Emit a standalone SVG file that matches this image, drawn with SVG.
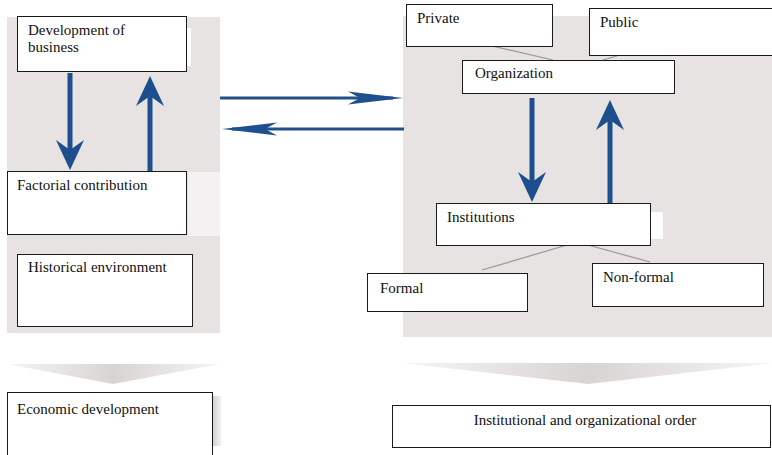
<svg xmlns="http://www.w3.org/2000/svg" width="772" height="455" viewBox="0 0 772 455">
  <style>
    .panel { fill: #e7e3e3; }
    .box { fill: #ffffff; stroke: #1a1a1a; stroke-width: 1; }
    .lbl { font-family: "Liberation Serif", "Times New Roman", serif; font-size: 15px; fill: #111111; }
    .thick { stroke: #1d4e8d; stroke-width: 5; fill: none; }
    .thin { stroke: #244f88; stroke-width: 3; fill: none; }
    .link { stroke: #9a9696; stroke-width: 1.2; fill: none; }
    .chev { fill: url(#chevFill); }
  </style>
  <defs>
    <marker id="bigHead" markerUnits="userSpaceOnUse" viewBox="-19 -15 32 30" markerWidth="32" markerHeight="30" refX="0" refY="0" orient="auto">
      <path d="M12,0 L-18,-14 L-8,0 L-18,14 Z" fill="#1d4e8d"/>
    </marker>
    <marker id="longHead" markerUnits="userSpaceOnUse" viewBox="-46 -7 57 14" markerWidth="57" markerHeight="14" refX="0" refY="0" orient="auto">
      <path d="M10,0 L-45,-6.5 L-33,0 L-45,6.5 Z" fill="#1f4f8e"/>
    </marker>
    <linearGradient id="chevFill" x1="0" y1="0" x2="1" y2="0">
      <stop offset="0" stop-color="#f6f4f4"/>
      <stop offset="0.5" stop-color="#d9d4d4"/>
      <stop offset="1" stop-color="#f6f4f4"/>
    </linearGradient>
    <linearGradient id="shadeFill" x1="0" y1="0" x2="1" y2="0">
      <stop offset="0" stop-color="#d6d1d1"/>
      <stop offset="1" stop-color="#f4f2f2"/>
    </linearGradient>
  </defs>

  <!-- background panels -->
  <rect class="panel" x="7" y="17" width="213" height="316"/>
  <rect class="panel" x="403" y="16" width="369" height="321"/>
  <rect x="188" y="172" width="32" height="64" fill="#f3f1f1"/>
  <rect x="186" y="28" width="5" height="38" fill="#ffffff"/>
  <rect x="650" y="212" width="13" height="27" fill="#ffffff"/>

  <!-- downward chevrons -->
  <polygon class="chev" points="7,364 220,364 113,384"/>
  <polygon class="chev" points="403,363 772,363 588,384"/>
  <rect x="213" y="396" width="8" height="50" fill="url(#shadeFill)"/>

  <!-- connectors -->
  <g id="connectors">
    <line class="thick" x1="70" y1="73" x2="70" y2="158" marker-end="url(#bigHead)"/>
    <line class="thick" x1="150" y1="171" x2="150" y2="88" marker-end="url(#bigHead)"/>
    <line class="thick" x1="532" y1="98" x2="532" y2="190" marker-end="url(#bigHead)"/>
    <line class="thick" x1="610" y1="203" x2="610" y2="112" marker-end="url(#bigHead)"/>
    <line class="thin" x1="220" y1="98" x2="393" y2="98" marker-end="url(#longHead)"/>
    <line class="thin" x1="404" y1="129" x2="232" y2="129" marker-end="url(#longHead)"/>
    <line class="link" x1="492" y1="46" x2="553" y2="60"/>
    <line class="link" x1="620" y1="55" x2="603" y2="60"/>
    <line class="link" x1="567" y1="245" x2="482" y2="270"/>
    <line class="link" x1="588" y1="245" x2="650" y2="262"/>
  </g>

  <!-- left column -->
  <g id="development-of-business">
    <rect class="box" x="17.5" y="16.5" width="169" height="55"/>
    <text class="lbl" x="28" y="35">Development of</text>
    <text class="lbl" x="28" y="52">business</text>
  </g>
  <g id="factorial-contribution">
    <rect class="box" x="7.5" y="171.5" width="179" height="63"/>
    <text class="lbl" x="17" y="190">Factorial contribution</text>
  </g>
  <g id="historical-environment">
    <rect class="box" x="17.5" y="254.5" width="175" height="72"/>
    <text class="lbl" x="28" y="272">Historical environment</text>
  </g>
  <g id="economic-development">
    <rect class="box" x="7.5" y="392.5" width="205" height="70"/>
    <text class="lbl" x="17" y="414">Economic development</text>
  </g>

  <!-- right column -->
  <g id="private">
    <rect class="box" x="406.5" y="4.5" width="146" height="42"/>
    <text class="lbl" x="417" y="23">Private</text>
  </g>
  <g id="public">
    <rect class="box" x="589.5" y="8.5" width="190" height="47"/>
    <text class="lbl" x="600" y="27">Public</text>
  </g>
  <g id="organization">
    <rect class="box" x="462.5" y="60.5" width="212" height="33"/>
    <text class="lbl" x="475" y="78">Organization</text>
  </g>
  <g id="institutions">
    <rect class="box" x="436.5" y="203.5" width="214" height="42"/>
    <text class="lbl" x="447" y="222">Institutions</text>
  </g>
  <g id="formal">
    <rect class="box" x="367.5" y="273.5" width="160" height="38"/>
    <text class="lbl" x="380" y="293">Formal</text>
  </g>
  <g id="non-formal">
    <rect class="box" x="592.5" y="263.5" width="171" height="43"/>
    <text class="lbl" x="603" y="282">Non-formal</text>
  </g>
  <g id="institutional-order">
    <rect class="box" x="392.5" y="405.5" width="378" height="42"/>
    <text class="lbl" x="585" y="425" text-anchor="middle">Institutional and organizational order</text>
  </g>
</svg>
